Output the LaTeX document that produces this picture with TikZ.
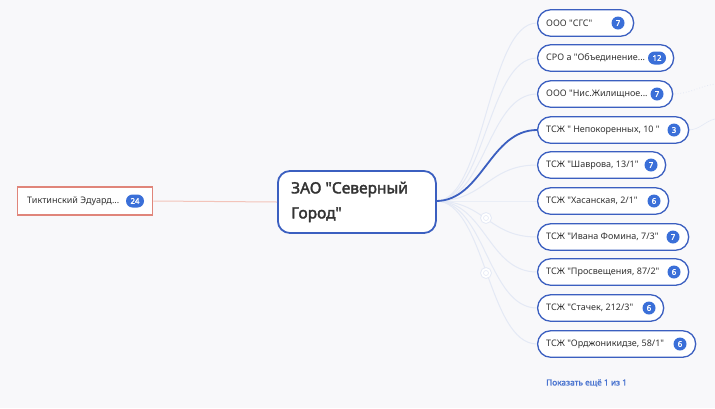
\documentclass[tikz,border=0pt]{standalone}
\usepackage{fontspec}
\setmainfont{Noto Sans}[Ligatures=TeXOff]
\newfontfamily\semibf{Noto Sans}[Ligatures=TeXOff,FakeBold=1.6]
\newfontfamily\medf{Noto Sans}[Ligatures=TeXOff,FakeBold=2.2]
\definecolor{bgc}{HTML}{F8F8FA}
\definecolor{pillblue}{HTML}{3B5FC0}
\definecolor{badgeblue}{HTML}{3A6FD8}
\definecolor{faintline}{HTML}{E4E9F5}
\definecolor{salmon}{HTML}{E0857A}
\definecolor{salmonline}{HTML}{F3C4BA}
\definecolor{txt}{HTML}{333333}
\definecolor{linkblue}{HTML}{4A74D0}
\tikzset{
  pill/.style={draw=pillblue, line width=1.3pt, fill=white, rounded corners=13pt, minimum height=26.5pt, anchor=west, inner sep=0pt},
  pilltext/.style={anchor=west, font=\fontsize{9}{10}\selectfont, text=txt, inner sep=0pt},
  badge/.style={fill=badgeblue, text=white, font=\semibf\fontsize{7.8}{8}\selectfont, circle, minimum size=13pt, inner sep=0pt},
  badgewide/.style={fill=badgeblue, text=white, font=\semibf\fontsize{7.8}{8}\selectfont, rounded corners=6.5pt, minimum height=13pt, minimum width=18pt, inner sep=0pt},
  faint/.style={draw=faintline, line width=1pt},
  hi/.style={draw=pillblue, line width=1.8pt},
  ghost/.style={draw=faintline, line width=0.8pt, fill=white, circle, minimum size=11pt, inner sep=0pt},
  ghostin/.style={draw=faintline, line width=0.6pt, circle, minimum size=5pt, inner sep=0pt},
  dots/.style={draw=faintline, line width=0.8pt, dotted}
}
\begin{document}
\begin{tikzpicture}[x=1pt,y=-1pt]
\useasboundingbox (0,0) rectangle (715,408);
\fill[bgc] (0,0) rectangle (715,408);

\coordinate (hub) at (436,201);

% curves first
\foreach \y in {23,58,94,165,201,237,272,308,344}{
  \draw[faint] (hub) .. controls (485,201) and (488,\y) .. (537,\y);
}
\draw[hi] (hub) .. controls (482,201) and (490,130) .. (537,130);

% faint outgoing lines
\coordinate (o1) at (715,84);
\coordinate (o2) at (715,119);
\draw[dots] (672,94) .. controls (690,94) and (700,86) .. (o1);
\draw[faint,line width=0.6pt] (688,130) .. controls (700,130) and (705,121) .. (o2);

% ghost icons
\node[ghost] (g1) at (486,218) {};
\node[ghost] (g2) at (486,273) {};
\node[ghostin] (g1i) at (486,218) {};
\node[ghostin] (g2i) at (486,273) {};

% left node
\node[draw=salmon, line width=1.3pt, fill=white, minimum width=135pt, minimum height=28pt, anchor=west, inner sep=0pt] (left) at (17,201) {};
\node[pilltext] (lefttxt) at (27,201) {Тиктинский Эдуард...};
\node[badgewide] (leftb) at (135,201) {24};

% center node
\node[draw=pillblue, line width=1.8pt, fill=white, rounded corners=12pt, minimum width=158pt, minimum height=62pt, anchor=west, inner sep=0pt] (center) at (277,202) {};
\node[anchor=west, align=left, font=\medf\fontsize{15.5}{25}\selectfont, text=txt, inner sep=0pt] (centertxt) at (291,202) {ЗАО "Северный\\Город"};
\draw[salmonline, line width=1pt] (left.east) -- (center.west);

% children
\node[pill, minimum width=96pt] (c1) at (537,23) {};
\node[pilltext] (t1) at (546,23) {ООО "СГС"};
\node[badge] (b1) at (618,23) {7};

\node[pill, minimum width=136pt] (c2) at (537,58) {};
\node[pilltext] (t2) at (546,58) {СРО а "Объединение...};
\node[badgewide] (b2) at (657,58) {12};

\node[pill, minimum width=135pt] (c3) at (537,94) {};
\node[pilltext] (t3) at (546,94) {ООО "Нис.Жилищное...};
\node[badge] (b3) at (657,94) {7};

\node[pill, minimum width=151pt] (c4) at (537,130) {};
\node[pilltext] (t4) at (546,130) {ТСЖ " Непокоренных, 10 "};
\node[badge] (b4) at (674,130) {3};

\node[pill, minimum width=128pt] (c5) at (537,165) {};
\node[pilltext] (t5) at (546,165) {ТСЖ "Шаврова, 13/1"};
\node[badge] (b5) at (651,165) {7};

\node[pill, minimum width=131pt] (c6) at (537,201) {};
\node[pilltext] (t6) at (546,201) {ТСЖ "Хасанская, 2/1"};
\node[badge] (b6) at (654,201) {6};

\node[pill, minimum width=151pt] (c7) at (537,237) {};
\node[pilltext] (t7) at (546,237) {ТСЖ "Ивана Фомина, 7/3"};
\node[badge] (b7) at (673,237) {7};

\node[pill, minimum width=151pt] (c8) at (537,272) {};
\node[pilltext] (t8) at (546,272) {ТСЖ "Просвещения, 87/2"};
\node[badge] (b8) at (674,272) {6};

\node[pill, minimum width=126pt] (c9) at (537,308) {};
\node[pilltext] (t9) at (546,308) {ТСЖ "Стачек, 212/3"};
\node[badge] (b9) at (649,308) {6};

\node[pill, minimum width=158pt] (c10) at (537,344) {};
\node[pilltext] (t10) at (546,344) {ТСЖ "Орджоникидзе, 58/1"};
\node[badge] (b10) at (680,344) {6};

\node[anchor=west, font=\semibf\fontsize{8.3}{10}\selectfont, text=linkblue, inner sep=0pt] (more) at (546,383) {Показать ещё 1 из 1};
\end{tikzpicture}
\end{document}
